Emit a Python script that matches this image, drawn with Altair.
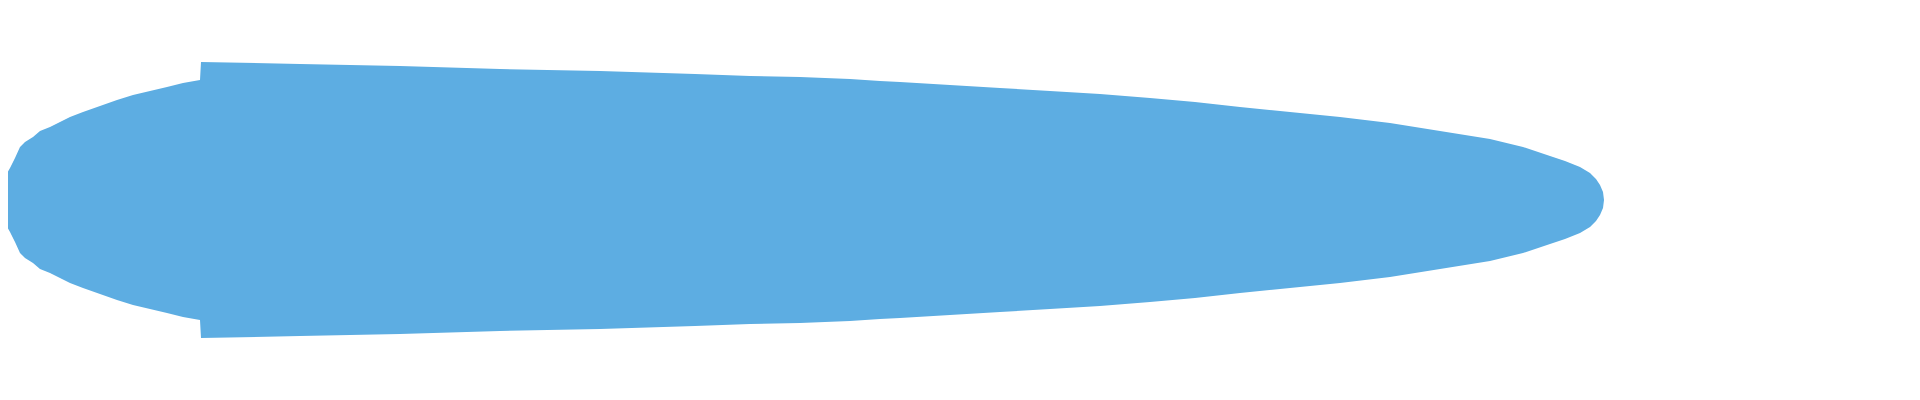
import altair as alt
import pandas as pd

# horizontal position (px from page left)
positions = [0, 2, 5, 10, 15, 20, 25, 33, 40, 50, 60, 70, 83, 100, 117, 133, 150, 167,
             183, 200, 201, 300, 400, 500, 600, 695, 750, 800, 850, 880, 900, 950,
             1000, 1050, 1100, 1150, 1195, 1240, 1290, 1340, 1390, 1440, 1490, 1523,
             1550, 1565, 1580, 1590, 1596, 1600, 1603, 1604]
# half thickness of the band at each position
half_width = [5, 19, 23, 32, 42, 53, 58, 63, 69, 73, 78, 83, 88, 94, 100, 105, 109, 113,
              117, 120, 138, 136, 134, 131, 129, 126, 124, 123, 121, 119, 118, 115,
              112, 109, 106, 102, 98, 93, 88, 83, 77, 69, 61, 53,
              44, 39, 33, 27, 21, 15, 8, 0]

df = pd.DataFrame({"pos": positions, "h": half_width})

chart = (
    alt.Chart(df)
    .transform_calculate(lo="-datum.h", hi="datum.h")
    .mark_area(color="#5DADE2", interpolate="linear", opacity=1)
    .encode(
        x=alt.X("pos:Q", axis=None, scale=alt.Scale(domain=[8, 1912], nice=False, zero=False)),
        y=alt.Y("lo:Q", axis=None, scale=alt.Scale(domain=[-192, 192], nice=False)),
        y2="hi:Q",
    )
    .properties(width=1904, height=384, padding=0,
                autosize=alt.AutoSizeParams(type="none"))
    .configure_view(stroke=None)
)

chart.save("out.html", embed_options={"renderer": "svg", "actions": False})
